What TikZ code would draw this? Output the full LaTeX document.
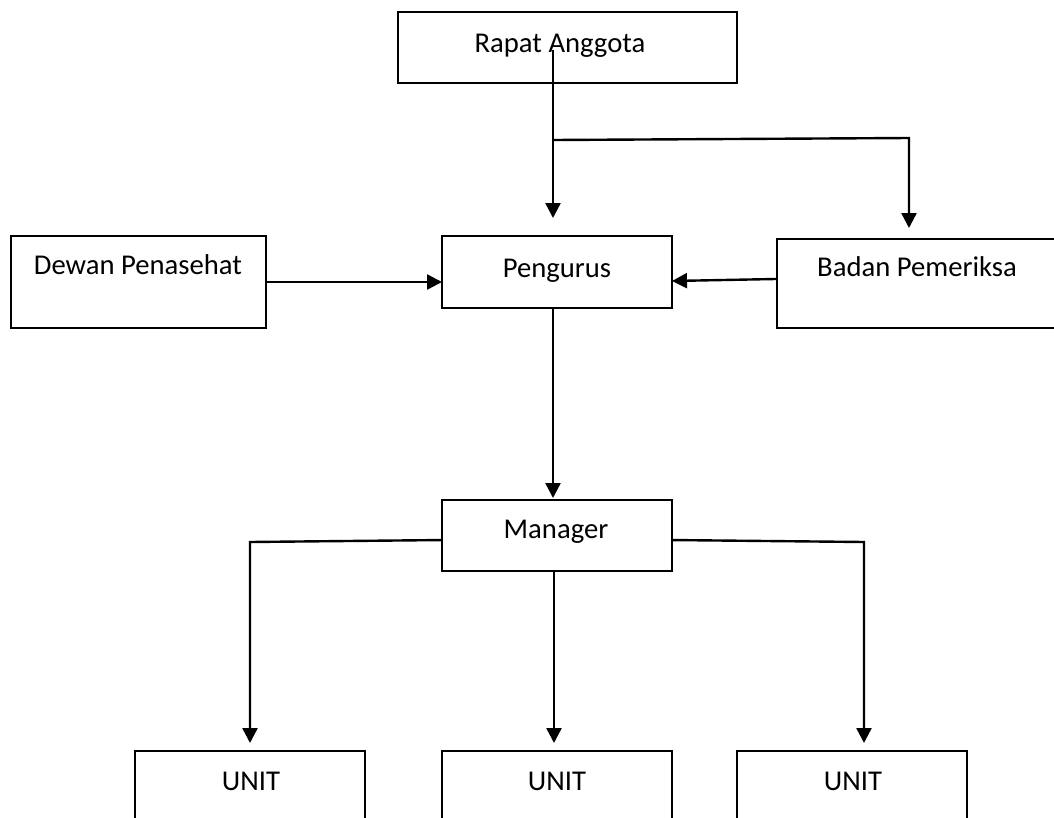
\documentclass[tikz,border=0pt]{standalone}
\usepackage{fontspec}
\setmainfont{Carlito}
\usetikzlibrary{arrows.meta}
\tikzset{
  box/.style={draw=black, line width=1.5pt, fill=white, inner sep=0pt, outer sep=0pt, anchor=north west},
  lbl/.style={font=\fontsize{21.5pt}{26pt}\selectfont, inner sep=0pt, anchor=base},
  conn/.style={line width=1.8pt, black},
  arr/.style={conn, -{Triangle[length=11.25pt, width=11.25pt]}}
}
\begin{document}
\begin{tikzpicture}[x=0.75pt, y=-0.75pt]
\path[use as bounding box] (0,0) rectangle (1054,818);
\clip (0,0) rectangle (1054,818);
\fill[white] (0,0) rectangle (1054,818);

% boxes
\node[box, minimum width=254.25pt, minimum height=53.25pt] (rapat) at (398,12) {};
\node[box, minimum width=191.25pt, minimum height=69pt] (dewan) at (11,236) {};
\node[box, minimum width=172.5pt, minimum height=54pt] (peng) at (442,236) {};
\node[box, minimum width=219.75pt, minimum height=66.75pt] (badan) at (777,239) {};
\node[box, minimum width=172.5pt, minimum height=53.25pt] (manager) at (442,500) {};
\node[box, minimum width=172.5pt, minimum height=90pt] (unit1) at (135,751) {};
\node[box, minimum width=172.5pt, minimum height=90pt] (unit2) at (442,751) {};
\node[box, minimum width=172.5pt, minimum height=90pt] (unit3) at (737,751) {};

% labels
\node[lbl] (trapat) at (560,52) {Rapat Anggota};
\node[lbl] (tdewan) at (138,274) {Dewan Penasehat};
\node[lbl] (tpeng) at (557,277) {Pengurus};
\node[lbl] (tbadan) at (917,276) {Badan Pemeriksa};
\node[lbl] (tmanager) at (556,538) {Manager};
\node[lbl] (tunit1) at (251,790) {UNIT};
\node[lbl] (tunit2) at (557,790) {UNIT};
\node[lbl] (tunit3) at (853,790) {UNIT};

% connector points
\coordinate (rtop) at (553,50);
\coordinate (j1) at (553,140);
\coordinate (j2) at (909,138);
\coordinate (ml) at (250,542);
\coordinate (mr) at (864,542);
\coordinate (mm) at (554,571);

% Rapat -> Pengurus and Badan
\draw[arr, shorten >=13.5pt] (rtop) -- (rtop |- peng.north);
\draw[arr, shorten >=8.25pt] (j1) -- (j2) -- (j2 |- badan.north);

% Dewan -> Pengurus, Badan -> Pengurus
\draw[arr] (dewan.east) -- (dewan.east -| peng.west);
\draw[arr] ([yshift=3.4pt]badan.west) -- ([yshift=-6.75pt]peng.east);

% Pengurus -> Manager
\draw[arr, shorten >=1.5pt] (peng.south -| rtop) -- (manager.north -| rtop);

% Manager -> Units
\draw[arr, shorten >=6pt] ([yshift=-3.4pt]manager.west) -- (ml) -- (ml |- unit1.north);
\draw[arr, shorten >=6pt] (mm) -- (mm |- unit2.north);
\draw[arr, shorten >=6pt] ([yshift=-3.4pt]manager.east) -- (mr) -- (mr |- unit3.north);
\end{tikzpicture}
\end{document}
